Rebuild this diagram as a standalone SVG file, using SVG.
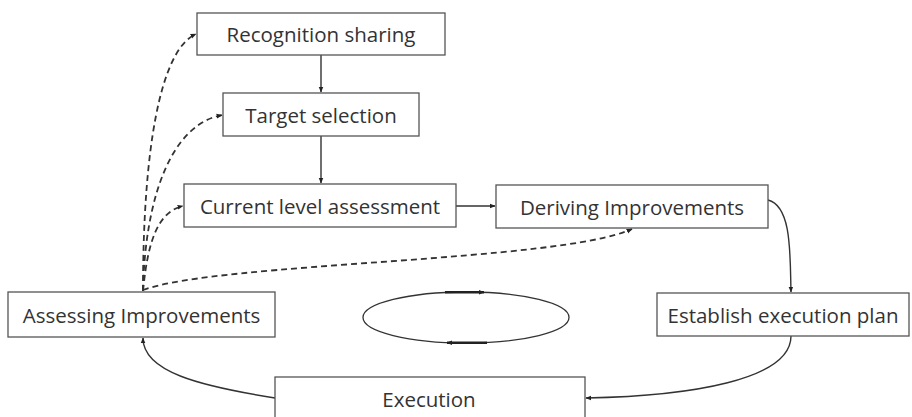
<svg xmlns="http://www.w3.org/2000/svg" width="912" height="417" viewBox="0 0 912 417">
<defs>
<marker id="ah" viewBox="0 0 10 10" refX="9" refY="5" markerWidth="6" markerHeight="6" orient="auto" markerUnits="userSpaceOnUse">
<path d="M0,1 L10,5 L0,9 z" fill="#222"/>
</marker>
<style>
.box{fill:#fff;stroke:#555;stroke-width:1.3}
.lbl{font-family:"Open Sans","Noto Sans",sans-serif;font-size:20.5px;fill:#333;text-anchor:middle;dominant-baseline:central}
.sol{fill:none;stroke:#333;stroke-width:1.4}
.dsh{fill:none;stroke:#333;stroke-width:1.8;stroke-dasharray:6,4}
</style>
</defs>
<rect width="912" height="417" fill="#fff"/>
<g id="connectors">
<path class="sol" d="M321,55 L321,92" marker-end="url(#ah)"/>
<path class="sol" d="M321,136 L321,183" marker-end="url(#ah)"/>
<path class="sol" d="M456,206 L495,206" marker-end="url(#ah)"/>
<path class="sol" d="M768,200 C792,206 790,255 791,292" marker-end="url(#ah)"/>
<path class="sol" d="M791,336 C791,380 690,396 586,398" marker-end="url(#ah)"/>
<path class="sol" d="M275,398 C200,386 143,372 143,338" marker-end="url(#ah)"/>
<path class="dsh" d="M143,291 C143,150 160,50 196,34" marker-end="url(#ah)"/>
<path class="dsh" d="M143,291 C145,200 170,125 222,115" marker-end="url(#ah)"/>
<path class="dsh" d="M143,291 C148,240 158,212 183,206" marker-end="url(#ah)"/>
<path class="dsh" d="M143,290 C220,262 560,262 632,229" marker-end="url(#ah)"/>
<ellipse cx="466" cy="317.5" rx="103" ry="25.5" fill="none" stroke="#333" stroke-width="1.3"/>
<path d="M445,292.3 L484,292.3" stroke="#222" stroke-width="2.4" fill="none" marker-end="url(#ah)"/>
<path d="M487,342.7 L447,342.7" stroke="#222" stroke-width="2.4" fill="none" marker-end="url(#ah)"/>
</g>
<g id="recognition"><rect class="box" x="197" y="13" width="248" height="42"/><text class="lbl" x="321" y="34">Recognition sharing</text></g>
<g id="target"><rect class="box" x="223" y="93" width="196" height="43"/><text class="lbl" x="321" y="114.5">Target selection</text></g>
<g id="current"><rect class="box" x="184" y="184" width="272" height="43"/><text class="lbl" x="320" y="205.5">Current level assessment</text></g>
<g id="deriving"><rect class="box" x="496" y="185" width="272" height="43"/><text class="lbl" x="632" y="206.5">Deriving Improvements</text></g>
<g id="assessing"><rect class="box" x="8" y="292" width="267" height="45"/><text class="lbl" x="141.5" y="314.5">Assessing Improvements</text></g>
<g id="establish"><rect class="box" x="657" y="293" width="252" height="43"/><text class="lbl" x="783" y="314.5">Establish execution plan</text></g>
<g id="execution"><rect class="box" x="275" y="377" width="310" height="50"/><text class="lbl" x="429" y="399">Execution</text></g>
</svg>
